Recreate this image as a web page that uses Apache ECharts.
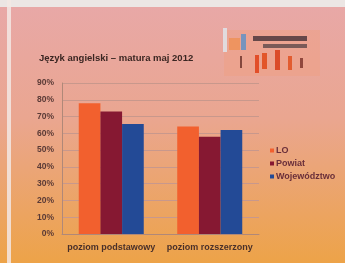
<!DOCTYPE html>
<html>
<head>
<meta charset="utf-8">
<script src="https://cdn.jsdelivr.net/npm/echarts@6/dist/echarts.min.js"></script>
<style>
  html, body { margin: 0; padding: 0; background: #e9ddd8; }
  #chart { width: 345px; height: 263px; }
</style>
</head>
<body>
<div id="chart"></div>
<script>
// values (percent)
var categories = ['poziom podstawowy', 'poziom rozszerzony'];
var seriesNames = ['LO', 'Powiat', 'Województwo'];
var loValues = [78, 64];
var powiatValues = [73, 58];
var wojValues = [65.5, 62];
var yTicks = [0, 10, 20, 30, 40, 50, 60, 70, 80, 90];

var colors = ['#f2602e', '#861832', '#234a96'];
var labelFont = 'Liberation Sans, Arial, sans-serif';

var chart = echarts.init(document.getElementById('chart'));

chart.setOption({
    backgroundColor: 'transparent',
    animation: false,
    color: colors,
    graphic: [
        // slide background
        {
            type: 'rect', z: -10,
            shape: { x: 0, y: 0, width: 345, height: 263 },
            style: {
                fill: new echarts.graphic.LinearGradient(0, 0, 0, 1, [
                    { offset: 0, color: '#e8a8a8' },
                    { offset: 0.45, color: '#eaa690' },
                    { offset: 1, color: '#eda348' }
                ])
            }
        },
        { type: 'rect', z: -9, shape: { x: 0, y: 0, width: 345, height: 7 }, style: { fill: '#ece6e4' } },
        { type: 'rect', z: -9, shape: { x: 7, y: 0, width: 4, height: 263 }, style: { fill: '#f3e8e4', opacity: 0.85 } },
        // logo in the corner
        { type: 'rect', z: -8, shape: { x: 224, y: 30, width: 96, height: 46 }, style: { fill: '#f0a080', opacity: 0.45 } },
        { type: 'rect', z: -7, shape: { x: 223, y: 28, width: 4, height: 24 }, style: { fill: '#dfe8f0', opacity: 0.8 } },
        { type: 'rect', z: -7, shape: { x: 241, y: 34, width: 5, height: 16 }, style: { fill: '#5a90c8', opacity: 0.8 } },
        { type: 'rect', z: -7, shape: { x: 229, y: 38, width: 11, height: 12 }, style: { fill: '#f08a40', opacity: 0.6 } },
        { type: 'rect', z: -7, shape: { x: 253, y: 36, width: 54, height: 5 }, style: { fill: '#3a2a30', opacity: 0.75 } },
        { type: 'rect', z: -7, shape: { x: 263, y: 44, width: 44, height: 4 }, style: { fill: '#4a3a40', opacity: 0.7 } },
        { type: 'rect', z: -7, shape: { x: 255, y: 55, width: 4, height: 18 }, style: { fill: '#e04018', opacity: 0.85 } },
        { type: 'rect', z: -7, shape: { x: 262, y: 53, width: 5, height: 16 }, style: { fill: '#e04818', opacity: 0.85 } },
        { type: 'rect', z: -7, shape: { x: 275, y: 50, width: 5, height: 20 }, style: { fill: '#d83c18', opacity: 0.85 } },
        { type: 'rect', z: -7, shape: { x: 288, y: 56, width: 4, height: 14 }, style: { fill: '#e05020', opacity: 0.85 } },
        { type: 'rect', z: -7, shape: { x: 300, y: 58, width: 3, height: 10 }, style: { fill: '#7a3028', opacity: 0.8 } },
        { type: 'rect', z: -7, shape: { x: 240, y: 56, width: 2, height: 12 }, style: { fill: '#6a3028', opacity: 0.8 } }
    ],
    title: {
        text: 'Język angielski – matura maj 2012',
        left: 34,
        top: 48,
        textStyle: { fontFamily: labelFont, fontSize: 9.5, fontWeight: 'bold', color: '#3a2622' }
    },
    legend: {
        data: seriesNames,
        orient: 'vertical',
        left: 265,
        top: 141,
        itemWidth: 4,
        itemHeight: 4,
        itemGap: 4,
        icon: 'rect',
        textStyle: { fontFamily: labelFont, fontSize: 9, fontWeight: 'bold', color: '#6a2f3a', padding: [0, 0, 0, -3] }
    },
    grid: { left: 62, right: 86, top: 83, bottom: 29, containLabel: false },
    xAxis: {
        type: 'category',
        data: categories,
        axisLine: { lineStyle: { color: '#b08878' } },
        axisTick: { show: false },
        axisLabel: { interval: 0, hideOverlap: false, fontFamily: labelFont, fontSize: 9, fontWeight: 'bold', color: '#4a302a', margin: 9 }
    },
    yAxis: {
        type: 'value',
        min: yTicks[0],
        max: yTicks[yTicks.length - 1],
        interval: 10,
        axisLine: { show: true, lineStyle: { color: '#b08878' } },
        axisTick: { show: false },
        splitLine: { lineStyle: { color: '#c8988c', width: 1 } },
        axisLabel: {
            fontFamily: labelFont, fontSize: 8.5, fontWeight: 'bold', color: '#5a3a36', margin: 8,
            formatter: function (v) { return v + '%'; }
        }
    },
    series: [
        { name: seriesNames[0], type: 'bar', data: loValues, barGap: '0%', barCategoryGap: '34%' },
        { name: seriesNames[1], type: 'bar', data: powiatValues, barGap: '0%', barCategoryGap: '34%' },
        { name: seriesNames[2], type: 'bar', data: wojValues, barGap: '0%', barCategoryGap: '34%' }
    ]
});
</script>
</body>
</html>
